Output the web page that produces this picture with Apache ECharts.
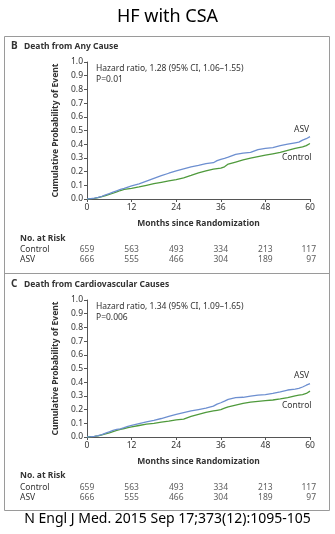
<!DOCTYPE html>
<html><head><meta charset="utf-8">
<script src="https://cdn.jsdelivr.net/npm/echarts@6/dist/echarts.min.js"></script>
<style>html,body{margin:0;padding:0;background:#fff;}#c{width:335px;height:534px;}</style>
</head><body><div id="c"></div>
<script>
const months = [0,1,2,3,4,5,6,7,8,9,10,11,12,14,16,18,20,22,24,26,28,30,32,34,35,36,37,38,40,42,44,46,48,50,52,54,56,57,58,59,60];
const asvAll = [0,0.003,0.006,0.012,0.02,0.03,0.04,0.05,0.06,0.07,0.078,0.087,0.095,0.11,0.13,0.15,0.17,0.188,0.205,0.22,0.235,0.245,0.258,0.265,0.28,0.29,0.297,0.305,0.325,0.335,0.34,0.36,0.37,0.375,0.39,0.4,0.41,0.415,0.43,0.44,0.455];
const ctlAll = [0,0.002,0.005,0.01,0.017,0.025,0.033,0.042,0.052,0.062,0.07,0.074,0.078,0.088,0.1,0.112,0.122,0.132,0.142,0.155,0.172,0.19,0.205,0.218,0.222,0.225,0.235,0.255,0.27,0.285,0.298,0.31,0.32,0.33,0.34,0.355,0.37,0.375,0.38,0.39,0.405];
const asvCV = [0,0.002,0.005,0.01,0.018,0.028,0.038,0.048,0.055,0.06,0.068,0.077,0.085,0.098,0.11,0.122,0.135,0.15,0.165,0.178,0.19,0.2,0.21,0.225,0.24,0.25,0.262,0.275,0.288,0.29,0.298,0.305,0.31,0.318,0.33,0.343,0.35,0.355,0.365,0.378,0.39];
const ctlCV = [0,0.002,0.004,0.008,0.015,0.022,0.03,0.04,0.048,0.056,0.062,0.068,0.074,0.084,0.094,0.1,0.108,0.116,0.125,0.13,0.15,0.165,0.18,0.19,0.195,0.2,0.21,0.22,0.233,0.245,0.255,0.26,0.265,0.27,0.278,0.288,0.3,0.305,0.31,0.318,0.335];
const riskMonths = [0,12,24,36,48,60];
const riskControlAll = [659,563,493,334,213,117];
const riskAsvAll = [666,555,466,304,189,97];
const riskControlCV = [659,563,493,334,213,117];
const riskAsvCV = [666,555,466,304,189,97];
const riskRows = ['Control','ASV'];
const yTicks = ['0.0','0.1','0.2','0.3','0.4','0.5','0.6','0.7','0.8','0.9','1.0'];

const F = 'Noto Sans';
const AX = '#555';
const TX = '#333';
const BLUE = '#6d8fd0';
const GREEN = '#4f9a3c';
const FS = 8.5;

const chart = echarts.init(document.getElementById('c'));
const pair = (xs, ys) => xs.map((x,i)=>[x, ys[i]]);
const riskPts = (vals, row) => riskMonths.map((m,i)=>({value:[m,row,vals[i]], label:{align: i===riskMonths.length-1?'right':'center', offset: i===riskMonths.length-1?[6,0]:[0,0]}}));

function plotAxes(gi){
  return {
    x: {gridIndex:gi, type:'value', min:0, max:60, interval:12,
      axisLine:{lineStyle:{color:AX,width:1}}, axisTick:{length:3,lineStyle:{color:AX}},
      axisLabel:{fontFamily:F,fontSize:FS,color:TX,margin:4}, splitLine:{show:false},
      name:'Months since Randomization', nameLocation:'middle', nameGap:20,
      nameTextStyle:{fontFamily:F,fontSize:FS,fontWeight:'bold',color:TX}},
    y: {gridIndex:gi, type:'value', min:0, max:1, interval:0.1,
      axisLine:{show:true,lineStyle:{color:AX,width:1}}, axisTick:{show:true,length:3,lineStyle:{color:AX}},
      axisLabel:{fontFamily:F,fontSize:FS,color:TX,margin:4,formatter:(v)=>yTicks[Math.round(v*10)]}, splitLine:{show:false},
      name:'Cumulative Probability of Event', nameLocation:'middle', nameGap:26,
      nameTextStyle:{fontFamily:F,fontSize:FS,fontWeight:'bold',color:TX}}
  };
}
const aB = plotAxes(0), aC = plotAxes(1);
function riskAxes(gi){
  return {
    x: {gridIndex:gi, type:'value', min:0, max:60, show:false},
    y: {gridIndex:gi, type:'category', data:riskRows, inverse:true,
      axisLine:{show:false}, axisTick:{show:false},
      axisLabel:{interval:0, fontFamily:F,fontSize:FS,color:TX,align:'left',margin:67}}
  };
}
const rB = riskAxes(2), rC = riskAxes(3);

const lineS = (xi, name, data, color) => ({type:'line', name, xAxisIndex:xi, yAxisIndex:xi, data, showSymbol:false, symbol:'none',
  lineStyle:{color, width:1.3}, itemStyle:{color}, animation:false, z:3});
const riskS = (xi, data) => ({type:'scatter', xAxisIndex:xi, yAxisIndex:xi, data, symbolSize:0,
  label:{show:true, position:'inside', formatter:(p)=>String(p.value[2]), fontFamily:F, fontSize:FS, color:TX}, animation:false});

const txt = (x,y,t,o) => ({type:'text', left:x, top:y, style:Object.assign({text:t, fontFamily:F, fontSize:FS, fill:TX}, o||{})});

chart.setOption({
  animation:false,
  grid:[
    {left:87, right:25, top:62, height:137},
    {left:87, right:25, top:300, height:137},
    {left:87, right:25, top:245, height:20},
    {left:87, right:25, top:483, height:20}
  ],
  xAxis:[aB.x, aC.x, rB.x, rC.x],
  yAxis:[aB.y, aC.y, rB.y, rC.y],
  series:[
    lineS(0,'Control',pair(months,ctlAll),GREEN),
    lineS(0,'ASV',pair(months,asvAll),BLUE),
    lineS(1,'Control',pair(months,ctlCV),GREEN),
    lineS(1,'ASV',pair(months,asvCV),BLUE),
    riskS(2, riskPts(riskControlAll,0).concat(riskPts(riskAsvAll,1))),
    riskS(3, riskPts(riskControlCV,0).concat(riskPts(riskAsvCV,1)))
  ],
  graphic:[
    {type:'rect', shape:{x:4.5,y:36.5,width:325,height:474}, style:{fill:'none',stroke:'#9a9a9a',lineWidth:1}},
    {type:'line', shape:{x1:4.5,y1:273.5,x2:329.5,y2:273.5}, style:{stroke:'#9a9a9a',lineWidth:1}},
    {type:'text', left:'center', top:8, style:{text:'HF with CSA', fontFamily:F, fontSize:18, fill:'#000'}},
    txt(11,41,'B',{fontSize:10,fontWeight:'bold'}),
    txt(24,42,'Death from Any Cause',{fontWeight:'bold'}),
    txt(96,64,'Hazard ratio, 1.28 (95% CI, 1.06\u20131.55)'),
    txt(96,75,'P=0.01'),
    txt(294,125,'ASV'),
    txt(282,153,'Control'),
    txt(20,234,'No. at Risk',{fontWeight:'bold'}),
    txt(11,279,'C',{fontSize:10,fontWeight:'bold'}),
    txt(24,280,'Death from Cardiovascular Causes',{fontWeight:'bold'}),
    txt(96,302,'Hazard ratio, 1.34 (95% CI, 1.09\u20131.65)'),
    txt(96,313,'P=0.006'),
    txt(294,371,'ASV'),
    txt(282,401,'Control'),
    txt(20,471,'No. at Risk',{fontWeight:'bold'}),
    {type:'text', left:'center', top:512, style:{text:'N Engl J Med. 2015 Sep 17;373(12):1095-105', fontFamily:F, fontSize:14, fill:'#000'}}
  ]
});
</script></body></html>
